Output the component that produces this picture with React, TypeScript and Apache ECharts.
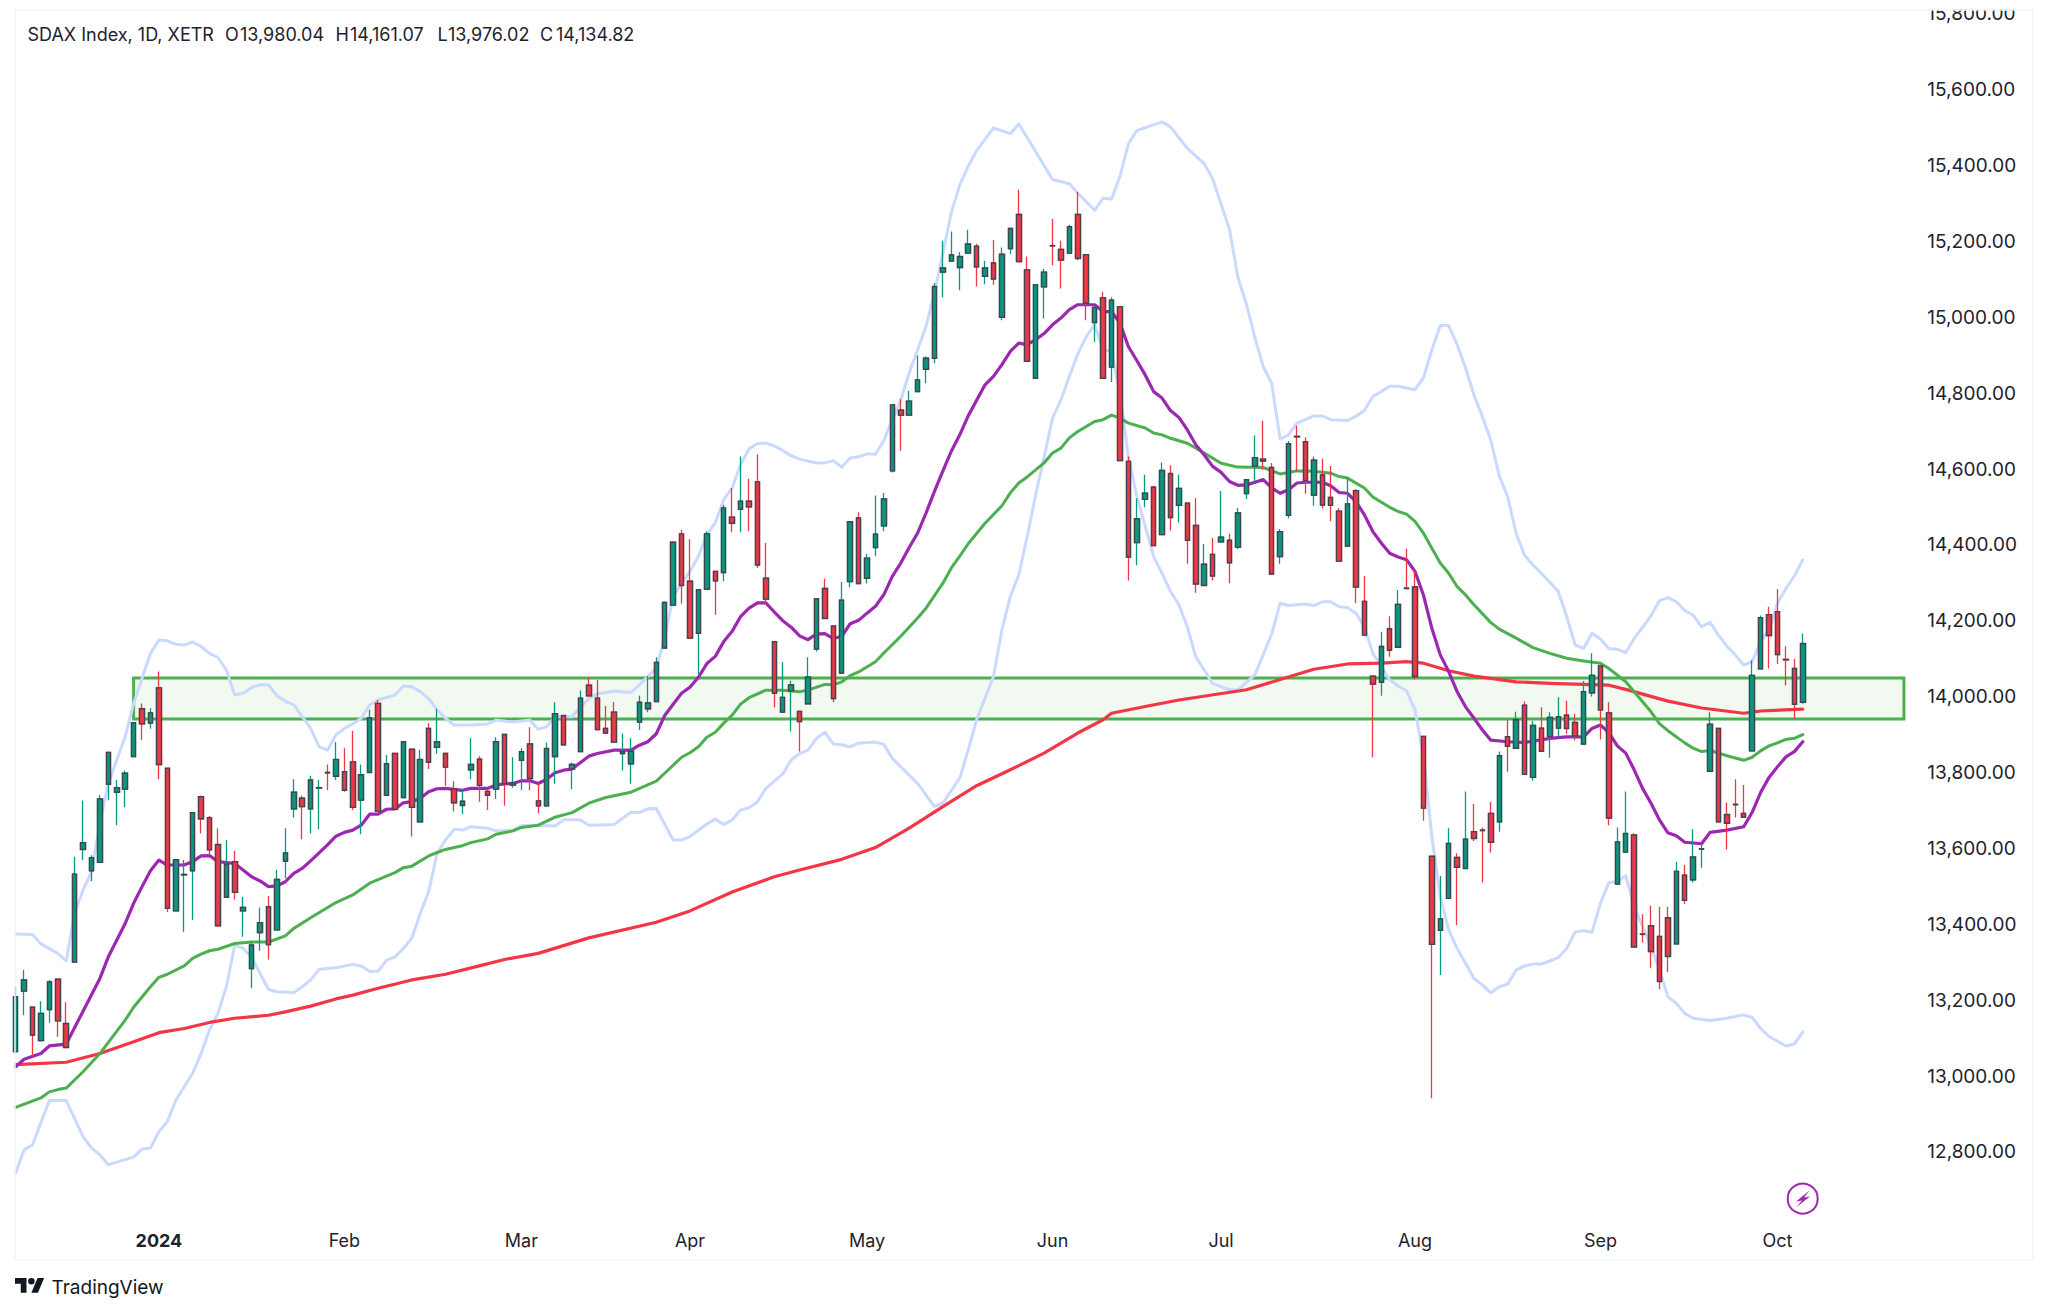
import React, { useEffect, useRef } from "react";
import * as echarts from "echarts";

// candle rows: open, close, low, high
const candles: number[][] = [
[13059,13204,13054,13230],[13219,13248,13155,13274],[13176,13103,13046,13178],[13088,13160,13086,13192],[13170,13243,13135,13248],[13250,13140,13098,13252],[13133,13070,13068,13189],[13295,13527,13294,13573],[13592,13610,13564,13721],[13536,13570,13509,13577],
[13558,13725,13556,13736],[13764,13848,13722,13849],[13743,13755,13656,13775],[13751,13793,13703,13800],[13837,13926,13836,13927],[13963,13923,13881,13977],[13925,13952,13910,13964],[14018,13816,13777,14061],[13806,13437,13427,13807],[13430,13565,13429,13566],
[13525,13526,13375,13564],[13536,13689,13406,13690],[13731,13673,13634,13734],[13676,13591,13577,13680],[13605,13391,13390,13648],[13466,13553,13465,13617],[13560,13479,13460,13588],[13430,13439,13362,13467],[13278,13340,13226,13346],[13373,13399,13325,13439],
[13441,13341,13302,13469],[13380,13513,13379,13538],[13561,13583,13516,13648],[13699,13743,13676,13777],[13727,13705,13619,13734],[13699,13775,13634,13786],[13754,13755,13646,13775],[13795,13794,13749,13816],[13785,13829,13775,13875],[13797,13748,13744,13859],
[13823,13703,13696,13904],[13722,13789,13632,13816],[13795,13939,13794,13960],[13977,13693,13692,13986],[13735,13818,13734,13841],[13845,13698,13697,13846],[13729,13876,13728,13877],[13856,13703,13626,13857],[13665,13829,13664,13854],[13911,13822,13804,13925],
[13861,13876,13844,13962],[13845,13809,13760,13846],[13751,13715,13692,13772],[13708,13719,13685,13749],[13802,13816,13777,13886],[13830,13761,13718,13838],[13745,13735,13696,13753],[13751,13876,13725,13888],[13895,13765,13707,13896],[13762,13767,13755,13835],
[13827,13850,13749,13859],[13870,13779,13749,13914],[13720,13707,13687,13766],[13707,13858,13706,13874],[13837,13950,13765,13980],[13945,13868,13867,13946],[13804,13816,13751,13821],[13850,13991,13849,14011],[14025,13997,13996,14046],[13991,13908,13907,14039],
[13911,13899,13898,13970],[13954,13875,13874,13981],[13845,13850,13800,13898],[13818,13851,13765,13885],[13928,13980,13907,13997],[13963,13978,13954,14049],[13982,14085,13981,14099],[14123,14243,14122,14246],[14236,14402,14235,14404],[14424,14288,14240,14435],
[14299,14149,14148,14410],[14162,14277,14055,14278],[14278,14424,14277,14431],[14325,14300,14211,14326],[14322,14492,14299,14500],[14468,14452,14428,14545],[14489,14510,14428,14628],[14510,14495,14431,14569],[14561,14342,14334,14633],[14307,14252,14237,14400],
[14140,14004,13966,14141],[13954,13993,13953,14086],[14010,14026,13903,14037],[13956,13929,13850,13957],[13976,14046,13975,14099],[14120,14253,14114,14254],[14280,14201,14200,14306],[14181,13990,13980,14182],[14057,14249,14056,14297],[14298,14456,14283,14457],
[14466,14293,14292,14481],[14307,14360,14293,14371],[14388,14423,14365,14525],[14445,14516,14431,14532],[14590,14764,14586,14766],[14750,14737,14643,14779],[14737,14774,14736,14801],[14799,14830,14798,14894],[14858,14887,14821,14892],[14887,15076,14874,15085],
[15114,15125,15047,15197],[15143,15159,15142,15221],[15126,15155,15066,15167],[15164,15188,15163,15226],[15182,15128,15076,15189],[15103,15125,15082,15144],[15138,15096,15081,15199],[14995,15161,14987,15179],[15176,15229,15162,15230],[15266,15142,15141,15331],
[15120,14879,14878,15155],[14834,15081,14833,15082],[15075,15114,14992,15122],[15184,15183,15132,15254],[15174,15146,15071,15197],[15164,15234,15163,15239],[15266,15150,15145,15326],[15160,15032,14987,15161],[14981,15021,14930,15022],[15046,14834,14833,15062],
[14864,15040,14824,15048],[15023,14617,14616,15024],[14615,14363,14301,14628],[14401,14464,14341,14518],[14515,14531,14494,14580],[14547,14393,14392,14551],[14422,14591,14421,14612],[14583,14467,14433,14605],[14499,14544,14454,14580],[14505,14407,14345,14506],
[14446,14292,14269,14518],[14288,14344,14287,14397],[14370,14313,14301,14413],[14403,14415,14402,14537],[14407,14348,14294,14424],[14389,14479,14384,14492],[14530,14567,14516,14568],[14603,14625,14558,14683],[14621,14616,14593,14722],[14599,14318,14317,14611],
[14364,14430,14345,14437],[14473,14662,14465,14669],[14681,14680,14589,14709],[14667,14565,14530,14679],[14526,14618,14498,14628],[14579,14500,14491,14622],[14520,14499,14457,14603],[14484,14352,14351,14492],[14392,14503,14391,14571],[14538,14284,14241,14542],
[14246,14157,14156,14313],[14049,14028,13835,14050],[14033,14127,13997,14166],[14174,14117,14100,14207],[14125,14238,14124,14276],[14281,14280,14278,14385],[14284,14048,14040,14329],[13890,13701,13668,13891],[13574,13342,12936,13575],[13379,13409,13261,13522],
[13463,13608,13462,13648],[13571,13545,13393,13582],[13542,13619,13541,13745],[13639,13621,13614,13712],[13643,13642,13505,13650],[13687,13611,13584,13717],[13665,13839,13639,13850],[13889,13864,13797,13935],[13859,13934,13858,13955],[13972,13790,13789,13982],
[13782,13919,13773,13931],[13912,13851,13850,13967],[13890,13940,13834,13954],[13912,13942,13888,13993],[13946,13911,13897,13984],[13927,13891,13879,13949],[13870,14008,13869,14036],[14005,14051,13995,14109],[14076,13960,13882,14077],[13952,13675,13656,13980],
[13501,13612,13500,13650],[13585,13634,13584,13745],[13630,13335,13334,13635],[13369,13368,13347,13421],[13391,13323,13280,13444],[13363,13244,13224,13440],[13412,13310,13269,13440],[13343,13534,13342,13559],[13524,13458,13448,13551],[13512,13572,13505,13645],
[13593,13594,13544,13611],[13798,13922,13797,13954],[13911,13665,13664,13912],[13684,13661,13592,13716],[13711,13710,13676,13777],[13687,13677,13676,13762],[13852,14051,13851,14091],[14068,14203,14067,14209],[14211,14156,14069,14232],[14219,14106,14081,14278],
[14093,14092,14024,14128],[14069,13975,13935,14094],[13980.04,14134.82,13976.02,14161.07],
];

// indicator lines: [candle index, value]
const fastAverage: number[][] = [[0,13019],[1,13039],[3,13054],[4,13074],[6,13079],[10,13252],[11,13309],[13,13397],[14,13450],[15,13494],[16,13536],[17,13564],[18,13551],[20,13551],[21,13560],[22,13575],[23,13576],[24,13560],[26,13555],[28,13520],[29,13509],[30,13494],[31,13496],[32,13507],[33,13529],[34,13542],[35,13562],[37,13604],[38,13627],[39,13637],[40,13643],[41,13656],[42,13685],[43,13685],[44,13698],[45,13699],[46,13715],[47,13718],[48,13727],[49,13744],[50,13752],[51,13753],[53,13748],[54,13753],[56,13753],[57,13762],[58,13765],[59,13766],[60,13773],[61,13773],[62,13766],[63,13777],[64,13794],[65,13801],[66,13804],[68,13838],[69,13845],[71,13854],[73,13854],[74,13867],[75,13876],[76,13897],[77,13945],[78,13975],[79,14004],[80,14020],[81,14046],[82,14082],[83,14101],[84,14140],[85,14167],[86,14206],[87,14228],[88,14242],[89,14242],[90,14218],[91,14195],[92,14178],[93,14155],[94,14145],[95,14160],[96,14161],[97,14148],[98,14154],[99,14187],[100,14196],[101,14215],[102,14233],[103,14264],[104,14312],[105,14347],[106,14388],[107,14426],[108,14479],[109,14536],[110,14590],[111,14642],[112,14685],[113,14735],[115,14817],[116,14839],[117,14870],[118,14905],[119,14927],[120,14923],[121,14936],[122,14952],[123,14975],[124,14993],[125,15015],[126,15028],[128,15028],[129,15010],[130,15010],[131,14980],[132,14918],[133,14881],[134,14843],[135,14799],[136,14782],[137,14749],[138,14731],[139,14698],[140,14659],[141,14632],[142,14602],[143,14586],[144,14562],[145,14552],[146,14553],[148,14567],[149,14545],[150,14531],[151,14540],[152,14558],[153,14560],[155,14560],[156,14551],[157,14533],[158,14531],[159,14509],[160,14474],[161,14430],[162,14400],[163,14373],[164,14363],[165,14356],[166,14325],[167,14263],[168,14175],[169,14105],[170,14061],[171,14008],[172,13968],[173,13938],[174,13907],[175,13880],[177,13876],[179,13874],[182,13885],[184,13889],[186,13889],[187,13911],[188,13920],[189,13900],[190,13865],[191,13846],[192,13802],[193,13753],[194,13714],[195,13670],[196,13636],[197,13628],[198,13611],[200,13607],[201,13637],[203,13643],[205,13652],[206,13690],[207,13742],[208,13782],[209,13810],[210,13836],[211,13850],[212,13876]];
const midAverage: number[][] = [[0,12912],[3,12937],[4,12953],[5,12959],[6,12963],[8,13006],[10,13054],[13,13142],[14,13176],[16,13230],[17,13255],[18,13263],[20,13285],[21,13305],[22,13316],[23,13325],[24,13329],[26,13344],[28,13348],[30,13348],[32,13364],[33,13384],[35,13412],[38,13452],[40,13472],[42,13503],[45,13531],[46,13544],[47,13548],[49,13575],[50,13584],[51,13592],[53,13602],[54,13610],[56,13620],[57,13632],[59,13641],[60,13650],[62,13656],[64,13677],[66,13689],[68,13714],[70,13729],[73,13743],[76,13772],[77,13793],[79,13835],[80,13847],[81,13863],[82,13888],[83,13901],[84,13925],[85,13946],[86,13975],[87,13992],[89,14012],[91,14012],[93,14008],[94,14012],[96,14027],[97,14026],[98,14034],[99,14050],[100,14060],[102,14087],[103,14110],[105,14154],[107,14202],[108,14228],[110,14294],[111,14334],[112,14365],[113,14398],[115,14452],[117,14498],[118,14532],[119,14558],[120,14574],[122,14611],[123,14637],[124,14650],[125,14677],[126,14694],[128,14720],[129,14725],[130,14737],[131,14729],[132,14716],[134,14703],[135,14690],[136,14685],[137,14676],[139,14663],[141,14637],[143,14610],[145,14600],[148,14599],[150,14582],[152,14590],[154,14589],[156,14584],[157,14575],[158,14571],[160,14545],[161,14521],[163,14494],[164,14483],[165,14476],[166,14457],[167,14426],[168,14386],[169,14347],[170,14320],[171,14285],[172,14263],[173,14237],[175,14190],[176,14173],[178,14149],[180,14124],[182,14109],[184,14096],[186,14089],[188,14083],[189,14069],[191,14034],[192,14008],[194,13955],[195,13924],[196,13905],[198,13873],[199,13859],[200,13850],[201,13853],[203,13839],[205,13827],[206,13835],[207,13852],[208,13865],[209,13873],[210,13882],[211,13885],[212,13895]];
const slowAverage: number[][] = [[0,13025],[6,13031],[10,13054],[14,13085],[17,13109],[20,13120],[23,13136],[26,13147],[30,13155],[32,13164],[35,13179],[38,13198],[40,13208],[43,13226],[47,13248],[51,13263],[55,13285],[58,13302],[62,13318],[68,13359],[76,13400],[80,13430],[85,13480],[90,13520],[93,13538],[98,13566],[102,13597],[106,13648],[110,13705],[114,13760],[118,13802],[122,13846],[126,13899],[129,13934],[130,13951],[134,13969],[138,13986],[146,14013],[150,14040],[154,14067],[158,14081],[162,14083],[165,14087],[167,14083],[170,14063],[173,14049],[175,14043],[178,14034],[182,14030],[186,14027],[189,14025],[191,14014],[196,13983],[200,13965],[205,13951],[207,13957],[212,13962]];
const upperBand: number[][] = [[0,13369],[2,13368],[3,13343],[5,13318],[6,13298],[7,13423],[8,13485],[9,13533],[10,13661],[11,13766],[12,13828],[13,13889],[14,13977],[15,14043],[16,14109],[17,14144],[18,14142],[19,14133],[20,14131],[21,14139],[22,14127],[23,14109],[24,14098],[25,14065],[26,13999],[27,14004],[28,14019],[29,14026],[30,14026],[31,13997],[32,13983],[33,13973],[34,13942],[35,13911],[36,13863],[37,13854],[38,13894],[39,13911],[40,13923],[41,13938],[42,13973],[43,13986],[45,13999],[46,14023],[47,14021],[48,14008],[49,13990],[50,13960],[51,13938],[52,13920],[54,13920],[56,13923],[57,13933],[59,13928],[61,13933],[62,13909],[63,13916],[64,13942],[66,13942],[67,13967],[68,13990],[69,14002],[71,14010],[73,14006],[74,14026],[76,14070],[77,14150],[78,14259],[79,14294],[80,14325],[81,14365],[82,14422],[83,14453],[84,14514],[85,14545],[86,14606],[87,14648],[88,14662],[89,14663],[90,14656],[91,14644],[92,14630],[93,14621],[95,14611],[96,14611],[97,14617],[98,14600],[99,14624],[100,14627],[101,14635],[102,14634],[103,14670],[104,14725],[105,14777],[106,14848],[107,14909],[108,14971],[109,15059],[110,15164],[111,15271],[112,15344],[113,15393],[114,15434],[116,15494],[118,15479],[119,15505],[122,15395],[123,15358],[125,15347],[126,15322],[128,15277],[129,15309],[130,15307],[131,15366],[132,15452],[133,15487],[136,15510],[137,15497],[139,15440],[141,15400],[142,15360],[144,15226],[145,15100],[146,15030],[147,14942],[148,14865],[149,14821],[150,14674],[151,14685],[152,14716],[153,14725],[154,14735],[155,14735],[156,14725],[158,14723],[159,14734],[160,14749],[161,14786],[162,14799],[163,14813],[164,14813],[166,14804],[167,14835],[168,14909],[169,14973],[170,14973],[171,14923],[172,14861],[173,14790],[174,14733],[175,14670],[176,14577],[177,14522],[178,14425],[179,14368],[180,14342],[181,14320],[183,14272],[184,14206],[185,14131],[186,14122],[187,14162],[188,14147],[189,14122],[190,14120],[191,14111],[192,14148],[194,14208],[195,14248],[196,14256],[197,14245],[198,14222],[199,14210],[200,14179],[201,14191],[202,14157],[203,14128],[204,14105],[205,14078],[206,14087],[207,14140],[208,14170],[209,14241],[210,14280],[211,14313],[212,14355]];
const lowerBand: number[][] = [[0,12739],[1,12800],[2,12813],[4,12930],[6,12930],[8,12835],[9,12805],[10,12787],[11,12761],[14,12781],[15,12802],[16,12805],[17,12848],[18,12875],[19,12931],[21,13002],[22,13054],[23,13116],[24,13160],[25,13230],[26,13340],[27,13331],[28,13309],[29,13265],[30,13223],[31,13217],[33,13215],[34,13230],[35,13248],[36,13276],[38,13280],[40,13289],[41,13285],[42,13270],[43,13271],[44,13300],[45,13309],[46,13331],[47,13358],[48,13423],[49,13481],[50,13582],[51,13617],[52,13645],[53,13643],[54,13652],[56,13648],[57,13641],[59,13643],[60,13655],[62,13656],[64,13654],[65,13670],[67,13670],[68,13656],[71,13658],[73,13690],[74,13689],[75,13699],[76,13700],[78,13617],[79,13617],[80,13626],[82,13659],[83,13672],[84,13658],[85,13670],[86,13696],[87,13702],[88,13718],[89,13753],[90,13772],[91,13791],[92,13828],[93,13845],[94,13854],[95,13885],[96,13901],[97,13870],[98,13868],[99,13863],[100,13872],[102,13875],[103,13869],[104,13832],[107,13766],[109,13705],[110,13715],[112,13780],[113,13854],[114,13934],[116,14048],[117,14171],[118,14259],[119,14316],[120,14417],[121,14527],[122,14625],[123,14729],[124,14777],[125,14839],[126,14898],[127,14944],[128,14975],[129,14910],[130,14905],[131,14795],[132,14628],[133,14523],[134,14444],[135,14364],[136,14320],[137,14272],[138,14237],[139,14178],[140,14100],[141,14065],[142,14029],[144,14013],[145,14013],[147,14052],[149,14160],[150,14241],[151,14235],[153,14239],[154,14235],[155,14245],[156,14245],[157,14232],[158,14230],[159,14214],[160,14180],[161,14109],[162,14074],[163,14039],[164,14023],[165,14010],[166,13960],[167,13840],[168,13626],[169,13468],[170,13380],[171,13331],[172,13292],[173,13252],[174,13235],[175,13214],[176,13230],[177,13237],[178,13274],[179,13285],[180,13290],[181,13290],[182,13298],[183,13307],[184,13331],[185,13374],[186,13378],[187,13374],[188,13450],[189,13505],[190,13507],[191,13523],[192,13441],[193,13389],[194,13336],[195,13274],[196,13204],[197,13186],[198,13160],[199,13147],[201,13141],[203,13147],[205,13156],[206,13149],[207,13120],[208,13099],[210,13074],[211,13079],[212,13111]];

const zoneFromIndex = 14;
const zoneToIndex = 224;
const zoneTop = 14044;
const zoneBottom = 13936;

const slotCount = 226;
const slots: string[] = Array.from({ length: slotCount }, (_, i) => "d" + i);
const monthIndexes = [17, 39, 60, 80, 101, 123, 143, 166, 188, 209];
const monthLabels = ["2024", "Feb", "Mar", "Apr", "May", "Jun", "Jul", "Aug", "Sep", "Oct"];
const priceTicks = [12800, 13000, 13200, 13400, 13600, 13800, 14000, 14200, 14400, 14600, 14800, 15000, 15200, 15400, 15600, 15800];

const UP = "#089981";
const DOWN = "#f23645";
const EDGE = "#434651";
const FONT = "Inter";
const TEXT = "#1e222d";

echarts.graphic.registerShape(
  "tvLogo",
  echarts.graphic.extendPath("M14 22H7V11H0V4h14v18zM28 22h-8l7.5-18h8L28 22zM16 8a4 4 0 1 0 8 0a4 4 0 1 0-8 0z", {})
);

const headerParts: [string, number][] = [
  ["SDAX Index, 1D, XETR", 27.5],
  ["O", 225],
  ["13,980.04", 240],
  ["H", 335.5],
  ["14,161.07", 350],
  ["L", 437.5],
  ["13,976.02", 448],
  ["C", 540],
  ["14,134.82", 556],
];

export default function App() {
  const ref = useRef<HTMLDivElement>(null);
  useEffect(() => {
    const chart = echarts.init(ref.current!, undefined, { renderer: "svg" });
    const line = (name: string, data: number[][], color: string, width: number, extra: any = {}) => ({
      name,
      type: "line",
      data,
      symbol: "none",
      smooth: false,
      z: 2,
      lineStyle: { color, width, cap: "round", join: "round" },
      ...extra,
    });
    chart.setOption({
      animation: false,
      backgroundColor: "#ffffff",
      grid: { left: 15.6, top: 10, width: 8.43 * (slotCount - 1), height: 1215, containLabel: false },
      xAxis: {
        type: "category",
        data: slots,
        boundaryGap: false,
        axisLine: { show: false },
        axisTick: { show: false },
        splitLine: { show: false },
        axisLabel: {
          interval: (i: number) => monthIndexes.includes(i),
          formatter: (_v: string, i: number) => {
            const k = monthIndexes.indexOf(i);
            const t = k >= 0 ? monthLabels[k] : "";
            return t === "2024" ? "{y|2024}" : t;
          },
          color: TEXT,
          fontFamily: FONT,
          fontSize: 18,
          margin: 6,
          hideOverlap: false,
          rich: { y: { fontFamily: FONT, fontSize: 18, fontWeight: 700, color: TEXT } },
        },
      },
      yAxis: {
        type: "value",
        position: "right",
        min: 12602,
        max: 15805,
        axisLine: { show: false },
        axisTick: { show: false },
        splitLine: { show: false },
        axisLabel: {
          customValues: priceTicks,
          margin: 15,
          color: TEXT,
          fontFamily: FONT,
          fontSize: 19,
          verticalAlign: "top",
          lineHeight: 4,
          showMinLabel: true,
          showMaxLabel: true,
          formatter: (v: number) =>
            v.toLocaleString("en-US", { minimumFractionDigits: 2, maximumFractionDigits: 2 }),
        },
      },
      series: [
        line("Upper band", upperBand, "#c9d9ff", 3, {
          markArea: {
            silent: true,
            z: 0,
            itemStyle: { color: "rgba(76,175,80,0.08)", borderColor: "#4caf50", borderWidth: 3 },
            data: [[{ xAxis: zoneFromIndex, yAxis: zoneTop }, { xAxis: zoneToIndex, yAxis: zoneBottom }]],
          },
        }),
        line("Lower band", lowerBand, "#c9d9ff", 3),
        line("Slow average", slowAverage, "#f23645", 3.2),
        line("Mid average", midAverage, "#4caf50", 3),
        line("Fast average", fastAverage, "#9c27b0", 3.2),
        {
          name: "Wicks",
          type: "candlestick",
          data: candles,
          barWidth: 5,
          z: 3,
          itemStyle: { color: UP, color0: DOWN, borderColor: UP, borderColor0: DOWN, borderWidth: 1.3 },
        },
        {
          name: "Bodies",
          type: "candlestick",
          data: candles.map((c) => [c[0], c[1], Math.min(c[0], c[1]), Math.max(c[0], c[1])]),
          barWidth: 5,
          z: 4,
          itemStyle: { color: UP, color0: DOWN, borderColor: EDGE, borderColor0: EDGE, borderColorDoji: EDGE, borderWidth: 1.4 },
        },
      ],
      graphic: [
        { type: "rect", silent: true, z: 100, shape: { x: 1900, y: 0, width: 148, height: 9.5 }, style: { fill: "#ffffff" } },
        { type: "rect", silent: true, z: 101, shape: { x: 15, y: 10, width: 2018, height: 1250 }, style: { fill: "none", stroke: "#f0f3fa", lineWidth: 1.5 } },
        ...headerParts.map(([text, x]) => ({
          type: "text",
          silent: true,
          x,
          y: 34.5,
          style: { text, fill: TEXT, fontFamily: FONT, fontSize: 18, textVerticalAlign: "middle" },
        })),
        { type: "tvLogo", silent: true, x: 15, y: 1274.7, scaleX: 0.82, scaleY: 0.82, style: { fill: "#131722" } },
        { type: "text", silent: true, x: 51.5, y: 1287, style: { text: "TradingView", fill: "#131722", fontFamily: FONT, fontSize: 19, textVerticalAlign: "middle" } },
        { type: "circle", silent: true, shape: { cx: 1802.7, cy: 1198.7, r: 15 }, style: { fill: "#ffffff", stroke: "#9c27b0", lineWidth: 2 } },
        {
          type: "polygon",
          silent: true,
          shape: { points: [[1809.5, 1190.5], [1796, 1201.5], [1802, 1200.5], [1796.5, 1207], [1810, 1196.5], [1804, 1197.5]] },
          style: { fill: "#9c27b0" },
        },
      ],
    });
    return () => chart.dispose();
  }, []);
  return <div ref={ref} style={{ position: "absolute", left: 0, top: 0, width: 2048, height: 1313 }} />;
}
